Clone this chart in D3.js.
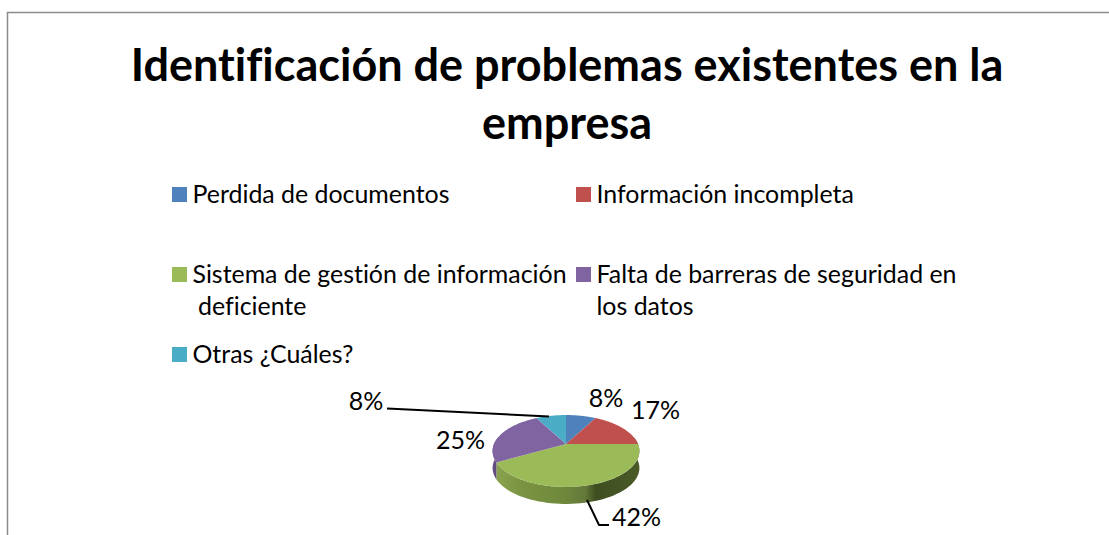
<!DOCTYPE html>
<html>
<head>
<meta charset="utf-8">
<script src="https://cdn.jsdelivr.net/npm/d3@7"></script>
<style>
html, body { margin: 0; padding: 0; background: #fff; overflow: hidden; }
text { font-family: Lato, "Open Sans", sans-serif; fill: #000; font-variant-ligatures: none; }
</style>
</head>
<body>
<svg width="1109" height="535"></svg>
<script>
var categories = ["Perdida de documentos", "Información incompleta", "Sistema de gestión de información deficiente", "Falta de barreras de seguridad en los datos", "Otras ¿Cuáles?"];
var values = [8, 17, 42, 25, 8];
var colors = ["#4f81bd", "#c0504d", "#9bbb59", "#8064a2", "#4bacc6"];
var frontStops = ["#8ba34e", "#7a9442", "#708a3c", "#64793a", "#3f4e20", "#4a5a28"];
var frontOffsets = [0.03, 0.19, 0.46, 0.63, 0.7, 1];
var leftStops = ["#6a5388", "#55426d"];
var titleLines = ["Identificación de problemas existentes en la", "empresa"];

var svg = d3.select("svg");

// frame, only top and left survive the crop
svg.append("path")
    .attr("d", "M7.5,535V12.5H1109")
    .attr("fill", "none")
    .attr("stroke", "#8c8c8c")
    .attr("stroke-width", 1.5);

svg.selectAll(".title")
  .data(titleLines)
  .join("text")
    .attr("class", "title")
    .attr("x", 567)
    .attr("y", (d, i) => 80.5 + i * 58)
    .attr("text-anchor", "middle")
    .attr("font-size", 45)
    .attr("font-weight", "bold")
    .text(d => d);

// legend
var legendRows = [
  {i: 0, x: 172, y: 202, lines: ["Perdida de documentos"]},
  {i: 1, x: 576, y: 202, lines: ["Información incompleta"]},
  {i: 2, x: 172, y: 282, lines: ["Sistema de gestión de información", "deficiente"]},
  {i: 3, x: 576, y: 282, lines: ["Falta de barreras de seguridad en", "los datos"]},
  {i: 4, x: 172, y: 362, lines: ["Otras ¿Cuáles?"]}
];
var legend = svg.selectAll(".legend")
  .data(legendRows)
  .join("g")
    .attr("class", "legend")
    .attr("transform", d => `translate(${d.x},${d.y})`);
legend.append("rect")
    .attr("y", -15)
    .attr("width", 15)
    .attr("height", 15)
    .attr("fill", d => colors[d.i]);
legend.selectAll("text")
  .data(d => d.lines.map((t, j) => ({t, j, i: d.i})))
  .join("text")
    .attr("x", d => d.j && d.i == 2 ? 26 : 20.5)
    .attr("y", d => d.j * 32 + 0.5)
    .attr("font-size", 24.9)
    .text(d => d.t);

// pie, projected with a little perspective so the front looks bigger
var cx = 566, cy = 444, rx = 72, ry = 34.6, persp = 0.1945, depth = 17;
function project(a, dy) {
  var u = Math.sin(a), v = -Math.cos(a), k = 1 / (1 - persp * v);
  return [cx + rx * u * k, cy + ry * v * k + (dy || 0)];
}
function rim(a0, a1, dy) {
  return d3.range(0, 61).map(i => project(a0 + (a1 - a0) * i / 60, dy));
}
var line = d3.line();
var arcs = d3.pie().sort(null)(values);

var defs = svg.append("defs");
var frontGrad = defs.append("linearGradient")
    .attr("id", "frontSide")
    .attr("gradientUnits", "userSpaceOnUse")
    .attr("x1", cx - 74).attr("x2", cx + 74).attr("y1", 0).attr("y2", 0);
frontOffsets.forEach((o, i) => frontGrad.append("stop").attr("offset", o).attr("stop-color", frontStops[i]));
var leftGrad = defs.append("linearGradient")
    .attr("id", "leftSide")
    .attr("gradientUnits", "userSpaceOnUse")
    .attr("x1", cx - 74).attr("x2", cx - 66).attr("y1", 0).attr("y2", 0);
[0, 1].forEach(i => leftGrad.append("stop").attr("offset", i).attr("stop-color", leftStops[i]));

// walls: only the part of the rim facing the viewer
function wall(a0, a1) {
  return line(rim(a0, a1, 0).concat(rim(a1, a0, depth))) + "Z";
}
svg.append("path")
    .attr("d", wall(Math.PI / 2 - Math.asin(persp), arcs[2].endAngle))
    .attr("fill", "url(#frontSide)");
svg.append("path")
    .attr("d", wall(arcs[3].startAngle, 1.5 * Math.PI + Math.asin(persp)))
    .attr("fill", "url(#leftSide)");

svg.selectAll(".slice")
  .data(arcs)
  .join("path")
    .attr("class", "slice")
    .attr("d", d => line([[cx, cy]].concat(rim(d.startAngle, d.endAngle))) + "Z")
    .attr("fill", (d, i) => colors[i]);

// leader lines
var leaders = [
  {i: 4, pts: [[387, 408.5], [549, 416.5]]},
  {i: 2, pts: [[587, 500], [599, 525], [609, 525]]}
];
svg.selectAll(".leader")
  .data(leaders)
  .join("path")
    .attr("class", "leader")
    .attr("d", d => line(d.pts))
    .attr("fill", "none")
    .attr("stroke", "#000")
    .attr("stroke-width", 2);

var labelPos = [[606, 407], [655.5, 419], [636.5, 526], [460.5, 449], [366, 410]];
svg.selectAll(".pct")
  .data(values)
  .join("text")
    .attr("class", "pct")
    .attr("x", (d, i) => labelPos[i][0])
    .attr("y", (d, i) => labelPos[i][1])
    .attr("text-anchor", "middle")
    .attr("font-size", 25)
    .text(d => d + "%");
</script>
</body>
</html>
